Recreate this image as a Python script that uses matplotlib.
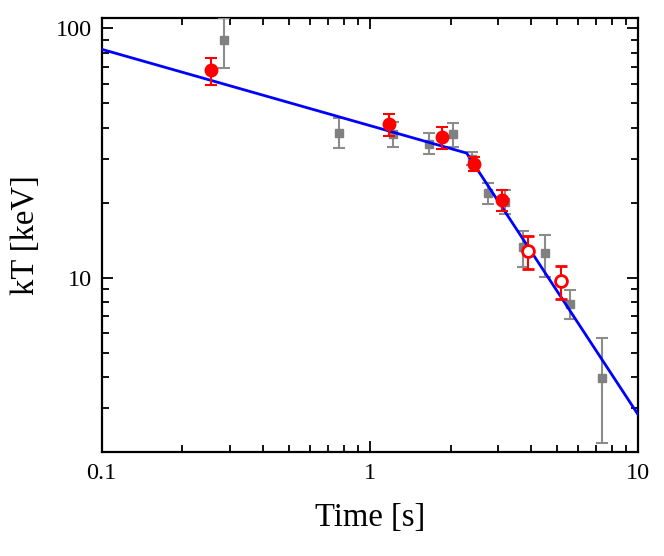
import matplotlib
matplotlib.use("Agg")
import matplotlib.pyplot as plt
from matplotlib.ticker import LogLocator, NullFormatter, FixedLocator, FixedFormatter

plt.rcParams['font.family'] = ['Liberation Serif', 'DejaVu Serif']
plt.rcParams['mathtext.fontset'] = 'stix'

# Gray squares (time, kT, lower err, upper err)
gray_t = [0.286, 0.765, 1.222, 1.657, 2.046, 2.396, 2.749, 3.19, 3.73, 4.50, 5.57, 7.32]
gray_T = [89.7, 38.2, 37.8, 34.5, 37.8, 30.0, 21.8, 20.2, 13.24, 12.53, 7.88, 3.97]
gray_lo = [20.6, 5.1, 4.4, 3.3, 4.4, 1.8, 2.0, 2.2, 2.17, 2.5, 1.02, 1.79]
gray_hi = [20.6, 5.3, 4.4, 3.6, 4.0, 1.9, 2.1, 2.2, 2.11, 2.37, 1.04, 1.78]

# Red filled circles
red_t = [0.2556, 1.181, 1.853, 2.451, 3.10]
red_T = [68.0, 41.3, 36.7, 28.7, 20.5]
red_lo = [8.8, 4.3, 3.8, 1.9, 1.9]
red_hi = [8.2, 4.2, 3.5, 1.8, 2.0]

# Red open circles
open_t = [3.896, 5.145]
open_T = [12.84, 9.72]
open_lo = [2.0, 1.51]
open_hi = [1.91, 1.46]

# Broken power-law fit (vertices)
fit_t = [0.1, 2.296, 10.0]
fit_T = [82.4, 31.6, 2.83]

fig = plt.figure(figsize=(6.64, 5.56), dpi=100)
ax = fig.add_axes([0.1532, 0.187, 0.9608 - 0.1532, 0.9676 - 0.187])

ax.plot(fit_t, fit_T, color='#0000ff', lw=2.0, zorder=4)

ax.errorbar(gray_t, gray_T, yerr=[gray_lo, gray_hi], fmt='s', color='#808080',
            ms=6, ecolor='#8c8c8c', elinewidth=1.5, capsize=4, capthick=1.5, zorder=3)
ax.errorbar(red_t, red_T, yerr=[red_lo, red_hi], fmt='o', color='#ff0000',
            ms=9, ecolor='#ff0000', elinewidth=1.5, capsize=4, capthick=1.5, zorder=5)
ax.errorbar(open_t, open_T, yerr=[open_lo, open_hi], fmt='o', mfc='white', mec='#ff0000',
            mew=2, ms=8.5, ecolor='#ff0000', elinewidth=1.5, capsize=4, capthick=1.5, zorder=5)

ax.set_xscale('log')
ax.set_yscale('log')
ax.set_xlim(0.1, 10)
ax.set_ylim(2.0, 110)

ax.xaxis.set_major_locator(FixedLocator([0.1, 1, 10]))
ax.xaxis.set_major_formatter(FixedFormatter(['0.1', '1', '10']))
ax.xaxis.set_minor_locator(LogLocator(base=10, subs=range(2, 10), numticks=20))
ax.xaxis.set_minor_formatter(NullFormatter())
ax.yaxis.set_major_locator(FixedLocator([10, 100]))
ax.yaxis.set_major_formatter(FixedFormatter(['10', '100']))
ax.yaxis.set_minor_locator(LogLocator(base=10, subs=range(2, 10), numticks=20))
ax.yaxis.set_minor_formatter(NullFormatter())

ax.tick_params(which='both', direction='in', top=True, right=True, width=1.3, labelsize=17.5)
ax.tick_params(which='major', length=8)
ax.tick_params(which='minor', length=5)
ax.tick_params(axis='x', which='major', pad=8)
ax.tick_params(axis='y', which='major', pad=7)
for s in ax.spines.values():
    s.set_linewidth(1.6)

ax.set_xlabel('Time [s]', fontsize=23.5, labelpad=13)
ax.set_ylabel('kT [keV]', fontsize=23.5, labelpad=11)

fig.savefig('out.png', dpi=100)
